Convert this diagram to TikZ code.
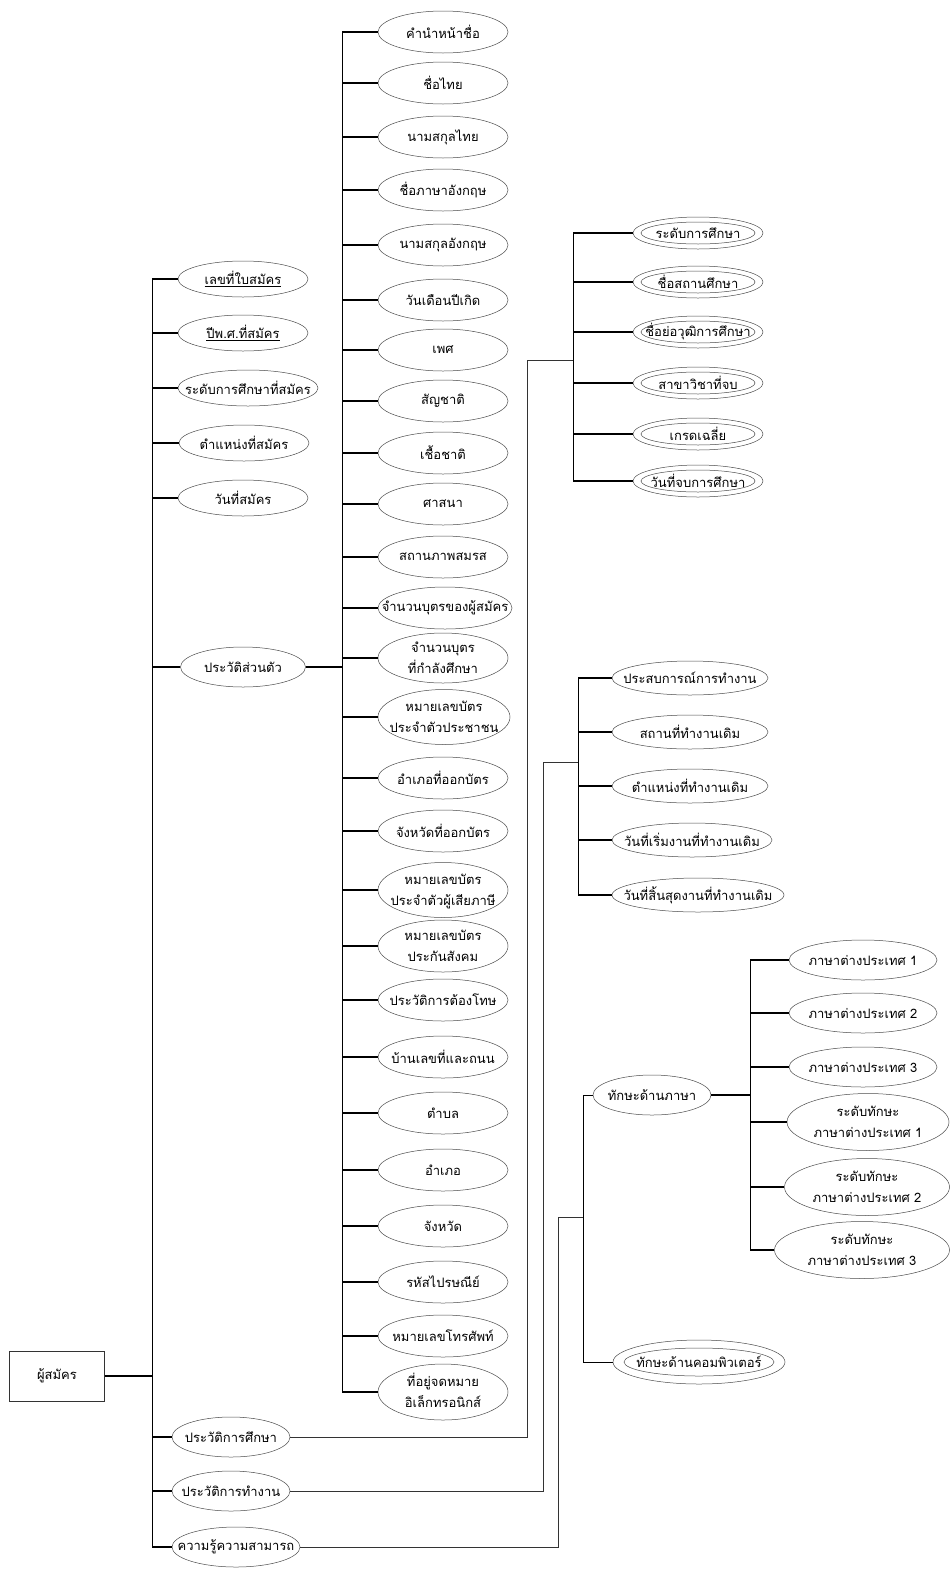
\documentclass[tikz,border=0pt]{standalone}
\usepackage{fontspec}
\newfontfamily\thai[Script=Thai]{Loma}
\usetikzlibrary{shapes.geometric}
\newcommand{\one}[1]{\makebox[0pt]{#1}}
\newcommand{\two}[2]{\makebox[0pt]{\raisebox{-0.3em}[0pt][0pt]{\begin{tabular}{@{}c@{}}#1\\#2\end{tabular}}}}
\begin{document}
\begin{tikzpicture}[x=1pt,y=-1pt,
  ell/.style={ellipse, draw=black!70, line width=0.5pt, inner sep=0pt,
    minimum width=130pt, minimum height=42pt, font=\thai\fontsize{13}{21}\selectfont},
  lft/.style={ell, minimum width=130pt, minimum height=36pt},
  dbl/.style={ell, minimum width=130pt, minimum height=32pt},
  box/.style={rectangle, draw=black!80, line width=0.6pt, minimum width=95pt,
    minimum height=50pt, font=\thai\fontsize{13}{21}\selectfont},
  br/.style={line width=1.2pt},
  tr/.style={line width=0.7pt},
  link/.style={line width=0.6pt, black!80},
  inner/.style={draw=black!70, line width=0.5pt}]
\useasboundingbox[fill=white] (0,0) rectangle (950,1569);

\coordinate (t1) at (152,0);
\coordinate (t2) at (342,0);
\coordinate (t3) at (573,0);
\coordinate (t4) at (578,0);
\coordinate (t5) at (583,0);
\coordinate (t6) at (750,0);
\coordinate (eduK) at (527,360); \coordinate (eduJ) at (573,360);
\coordinate (wrkK) at (543,762); \coordinate (wrkJ) at (578,762);
\coordinate (knwK) at (558,1217); \coordinate (knwJ) at (583,1217);

% root
\node[box] (R) at (57,1376) {ผู้สมัคร};

% left column
\node[lft] (a1) at (243,279) {\one{\underline{เลขที่ใบสมัคร}}};
\node[lft] (a2) at (243,333) {\one{\underline{ปีพ.ศ.ที่สมัคร}}};
\node[lft, minimum width=140pt] (a3) at (248,388) {\one{ระดับการศึกษาที่สมัคร}};
\node[lft] (a4) at (244,443) {\one{ตำแหน่งที่สมัคร}};
\node[lft] (a5) at (243,498) {\one{วันที่สมัคร}};
\node[lft, minimum width=125pt, minimum height=40pt] (a6) at (243,667) {\one{ประวัติส่วนตัว}};
\node[lft, minimum width=118pt, minimum height=40pt] (a7) at (231,1437) {\one{ประวัติการศึกษา}};
\node[lft, minimum width=118pt, minimum height=40pt] (a8) at (231,1491) {\one{ประวัติการทำงาน}};
\node[lft, minimum width=128pt, minimum height=40pt] (a9) at (236,1547) {\one{ความรู้ความสามารถ}};

% middle column
\node[ell] (m1) at (443,32) {\one{คำนำหน้าชื่อ}};
\node[ell] (m2) at (443,83) {\one{ชื่อไทย}};
\node[ell] (m3) at (443,137) {\one{นามสกุลไทย}};
\node[ell] (m4) at (443,190) {\one{ชื่อภาษาอังกฤษ}};
\node[ell] (m5) at (443,245) {\one{นามสกุลอังกฤษ}};
\node[ell] (m6) at (443,300) {\one{วันเดือนปีเกิด}};
\node[ell] (m7) at (443,350) {\one{เพศ}};
\node[ell] (m8) at (443,401) {\one{สัญชาติ}};
\node[ell] (m9) at (443,453) {\one{เชื้อชาติ}};
\node[ell] (m10) at (443,504) {\one{ศาสนา}};
\node[ell] (m11) at (443,557) {\one{สถานภาพสมรส}};
\node[ell, minimum width=134pt] (m12) at (445,608) {\one{จำนวนบุตรของผู้สมัคร}};
\node[ell, minimum height=50pt] (m13) at (443,658) {\two{จำนวนบุตร}{ที่กำลังศึกษา}};
\node[ell, minimum width=132pt, minimum height=55pt] (m14) at (444,717) {\two{หมายเลขบัตร}{ประจำตัวประชาชน}};
\node[ell] (m15) at (443,778) {\one{อำเภอที่ออกบัตร}};
\node[ell] (m16) at (443,831) {\one{จังหวัดที่ออกบัตร}};
\node[ell, minimum height=55pt] (m17) at (443,890) {\two{หมายเลขบัตร}{ประจำตัวผู้เสียภาษี}};
\node[ell, minimum height=52pt] (m18) at (443,946) {\two{หมายเลขบัตร}{ประกันสังคม}};
\node[ell] (m19) at (443,1000) {\one{ประวัติการต้องโทษ}};
\node[ell] (m20) at (443,1057) {\one{บ้านเลขที่และถนน}};
\node[ell] (m21) at (443,1113) {\one{ตำบล}};
\node[ell] (m22) at (443,1170) {\one{อำเภอ}};
\node[ell] (m23) at (443,1226) {\one{จังหวัด}};
\node[ell] (m24) at (443,1282) {\one{รหัสไปรษณีย์}};
\node[ell] (m25) at (443,1336) {\one{หมายเลขโทรศัพท์}};
\node[ell, minimum height=56pt] (m26) at (443,1392) {\two{ที่อยู่จดหมาย}{อิเล็กทรอนิกส์}};

% education
\node[dbl] (e1) at (698,233) {\one{ระดับการศึกษา}};
\node[dbl] (e2) at (698,282) {\one{ชื่อสถานศึกษา}};
\node[dbl] (e3) at (698,332) {\one{ชื่อย่อวุฒิการศึกษา}};
\node[dbl] (e4) at (698,383) {\one{สาขาวิชาที่จบ}};
\node[dbl] (e5) at (698,434) {\one{เกรดเฉลี่ย}};
\node[dbl] (e6) at (698,481) {\one{วันที่จบการศึกษา}};
\foreach \n in {e1,e2,e3,e4,e5,e6}
  \draw[inner] (\n.center) ellipse [x radius=57pt, y radius=11pt];

% work
\node[ell, minimum width=156pt, minimum height=34pt] (w1) at (690,678) {\one{ประสบการณ์การทำงาน}};
\node[ell, minimum width=156pt, minimum height=34pt] (w2) at (690,732) {\one{สถานที่ทำงานเดิม}};
\node[ell, minimum width=156pt, minimum height=34pt] (w3) at (690,786) {\one{ตำแหน่งที่ทำงานเดิม}};
\node[ell, minimum width=160pt, minimum height=34pt] (w4) at (692,840) {\one{วันที่เริ่มงานที่ทำงานเดิม}};
\node[ell, minimum width=172pt, minimum height=34pt] (w5) at (698,895) {\one{วันที่สิ้นสุดงานที่ทำงานเดิม}};

% knowledge
\node[ell, minimum width=118pt, minimum height=40pt] (k1) at (652,1095) {\one{ทักษะด้านภาษา}};
\node[ell, minimum width=172pt, minimum height=44pt] (k2) at (699,1362) {\one{ทักษะด้านคอมพิวเตอร์}};
\draw[inner] (k2.center) ellipse [x radius=75pt, y radius=14pt];

% languages
\node[ell, minimum width=148pt, minimum height=40pt] (l1) at (863,960) {\one{ภาษาต่างประเทศ 1}};
\node[ell, minimum width=148pt, minimum height=40pt] (l2) at (863,1013) {\one{ภาษาต่างประเทศ 2}};
\node[ell, minimum width=148pt, minimum height=40pt] (l3) at (863,1067) {\one{ภาษาต่างประเทศ 3}};
\node[ell, minimum width=162pt, minimum height=57pt] (l4) at (868,1122) {\two{ระดับทักษะ}{ภาษาต่างประเทศ 1}};
\node[ell, minimum width=165pt, minimum height=57pt] (l5) at (867,1187) {\two{ระดับทักษะ}{ภาษาต่างประเทศ 2}};
\node[ell, minimum width=175pt, minimum height=57pt] (l6) at (862,1250) {\two{ระดับทักษะ}{ภาษาต่างประเทศ 3}};

% connectors: root and left trunk
\draw[br] (R.east) -- (R.east -| t1);
\draw[tr] (t1 |- a1) -- (t1 |- a9);
\foreach \n in {a1,a2,a3,a4,a5,a6,a7,a8,a9}
  \draw[br] (\n.west) -- (\n.west -| t1);

% personal
\draw[br] (a6.east) -- (a6.east -| t2);
\draw[tr] (t2 |- m1) -- (t2 |- m26);
\foreach \n in {m1,m2,m3,m4,m5,m6,m7,m8,m9,m10,m11,m12,m13,m14,m15,m16,m17,m18,m19,m20,m21,m22,m23,m24,m25,m26}
  \draw[br] (\n.west) -- (\n.west -| t2);

% education
\draw[link] (a7.east) -| (eduK) -- (eduJ);
\draw[tr] (t3 |- e1) -- (t3 |- e6);
\foreach \n in {e1,e2,e3,e4,e5,e6}
  \draw[br] (\n.west) -- (\n.west -| t3);

% work
\draw[link] (a8.east) -| (wrkK) -- (wrkJ);
\draw[tr] (t4 |- w1) -- (t4 |- w5);
\foreach \n in {w1,w2,w3,w4,w5}
  \draw[br] (\n.west) -- (\n.west -| t4);

% knowledge
\draw[link] (a9.east) -| (knwK) -- (knwJ);
\draw[tr] (t5 |- k1) -- (t5 |- k2);
\foreach \n in {k1,k2}
  \draw[tr] (\n.west) -- (\n.west -| t5);
\draw[br] (k1.east) -- (k1.east -| t6);
\draw[tr] (t6 |- l1) -- (t6 |- l6);
\foreach \n in {l1,l2,l3,l4,l5,l6}
  \draw[br] (\n.west) -- (\n.west -| t6);
\end{tikzpicture}
\end{document}
